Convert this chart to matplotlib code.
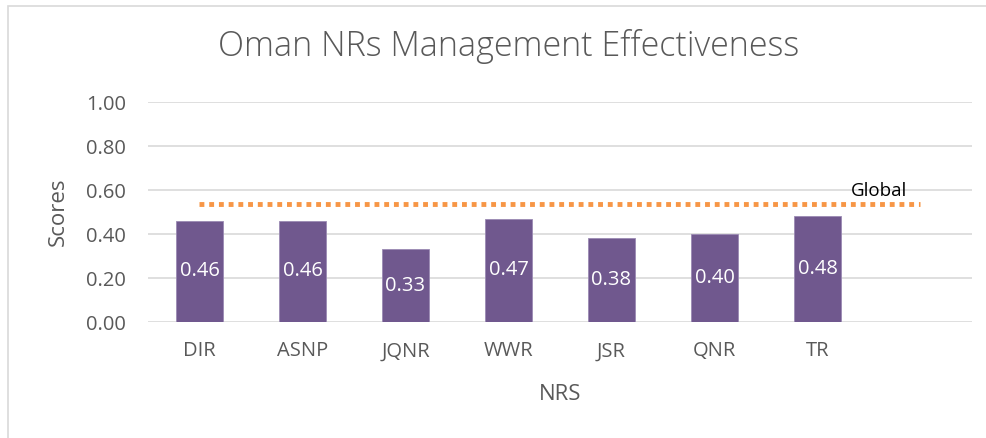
import matplotlib
matplotlib.use('Agg')
import matplotlib.pyplot as plt
import numpy as np
from matplotlib.patches import Rectangle

plt.rcParams['font.family'] = ['Open Sans', 'DejaVu Sans']

categories = ['DIR', 'ASNP', 'JQNR', 'WWR', 'JSR', 'QNR', 'TR', '']
scores = [0.46, 0.46, 0.33, 0.47, 0.38, 0.40, 0.48]
global_score = 0.535
yticks = [0.0, 0.2, 0.4, 0.6, 0.8, 1.0]

bar_color = '#70588E'
line_color = '#F79646'
text_gray = '#595959'

fig = plt.figure(figsize=(9.87, 4.38), dpi=100)
ax = fig.add_axes([148 / 987, 1 - 322 / 438, 824 / 987, 220 / 438])

x = np.arange(len(categories))
bars = ax.bar(x[:len(scores)], scores, width=0.45, color=bar_color,
              edgecolor='#9B8AB3', linewidth=0.6, zorder=3)

for b, v in zip(bars, scores):
    ax.text(b.get_x() + b.get_width() / 2, v / 2, f'{v:.2f}',
            ha='center', va='center', color='white', fontsize=14.5, zorder=4)

ax.plot([x[0], x[-1]], [global_score, global_score], color=line_color,
        linewidth=3.5, linestyle=(0, (1, 1)), zorder=4, dash_capstyle='butt')
ax.text(x[-1] - 0.4, global_score + 0.02, 'Global', ha='center', va='bottom',
        fontsize=13.5, color='black')

ax.set_xlim(-0.5, len(categories) - 0.5)
ax.set_ylim(0, 1.0)
ax.set_yticks(yticks)
ax.set_yticklabels([f'{t:.2f}' for t in yticks])
ax.set_xticks(x)
ax.set_xticklabels(categories)
ax.yaxis.grid(True, color='#D9D9D9', linewidth=1.2, zorder=0)
ax.set_axisbelow(True)
for s in ax.spines.values():
    s.set_visible(False)
ax.tick_params(length=0, labelsize=14.5, colors=text_gray)
ax.tick_params(axis='y', pad=16)
ax.tick_params(axis='x', pad=14)

ax.set_ylabel('Scores', fontsize=16, color=text_gray, labelpad=12)
ax.set_xlabel('NRS', fontsize=16, color=text_gray, labelpad=16)
fig.text(0.515, 1 - 47 / 438, 'Oman NRs Management Effectiveness',
         ha='center', va='center', fontsize=24.5, color=text_gray, fontweight='light')

# chart area border
fig.patches.append(Rectangle((8 / 987, -0.01), 1.0, 1 - 6 / 438 + 0.01,
                             transform=fig.transFigure, fill=False,
                             edgecolor='#D9D9D9', linewidth=1.2))

fig.savefig('out.png', dpi=100, facecolor='white')
